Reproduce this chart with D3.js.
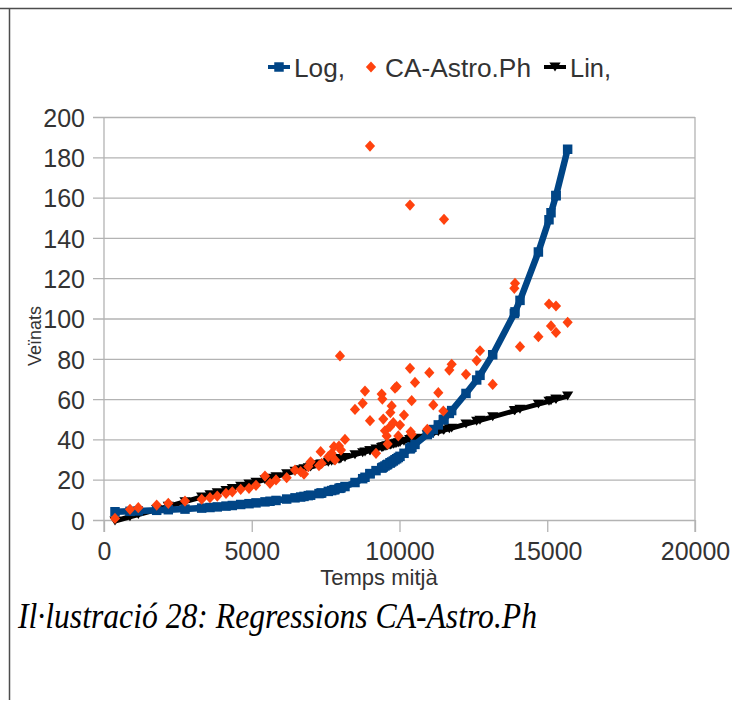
<!DOCTYPE html>
<html>
<head>
<meta charset="utf-8">
<script src="https://cdn.jsdelivr.net/npm/d3@7"></script>
<style>
  html, body { margin: 0; padding: 0; background: #ffffff; }
  svg { display: block; }
  text { font-family: "Liberation Sans", Arial, sans-serif; fill: #333333; }
  .caption { font-family: "Liberation Serif", "Times New Roman", serif; font-style: italic; fill: #000000; }
</style>
</head>
<body>
<svg id="chart" width="732" height="702"></svg>
<script>
// Mean time (x) shared by the observed points and both regression curves
const temps = [372, 880, 1161, 1783, 2176, 2741, 3306, 3587, 3834, 4129,
  4342, 4626, 4907, 5144, 5448, 5618, 5821, 6182, 6464, 6655,
  6768, 6914, 6993, 7276, 7332, 7366, 7591, 7704, 7783, 7817,
  7952, 7986, 8020, 8155, 8494, 8754, 8832, 9002, 9002, 9205,
  9397, 9419, 9452, 9509, 9566, 9600, 9679, 9690, 9735, 9791,
  9848, 9904, 9960, 10017, 10152, 10355, 10355, 10378, 10412, 10412,
  10524, 10941, 11009, 11144, 11313, 11483, 11506, 11686, 11766, 12250,
  12612, 12724, 13154, 13886, 13909, 14078, 14700, 15059, 15127, 15296,
  15296, 15690];

// Observed neighbours (CA-Astro.Ph)
const veinats = [0.8, 5.3, 6.1, 7.4, 8.3, 9.4, 10.3, 11.1, 11.9, 13.2,
  14.0, 15.2, 15.7, 17.2, 21.8, 18.2, 19.9, 21.0, 24.8, 24.0,
  22.8, 26.5, 28.9, 27.0, 33.9, 28.1, 31.4, 33.1, 36.4, 29.8,
  36.7, 81.4, 34.7, 40.0, 54.9, 57.9, 64.0, 185.6, 49.3, 33.1,
  62.5, 60.0, 50.1, 44.3, 41.7, 37.7, 46.3, 53.3, 56.6, 48.3,
  65.4, 66.2, 41.7, 47.1, 52.1, 75.3, 156.3, 43.8, 42.5, 59.2,
  68.3, 45.0, 73.1, 57.1, 63.2, 54.1, 149.2, 74.4, 77.3, 72.3,
  79.1, 84.0, 67.3, 115.0, 117.5, 86.0, 91.0, 107.2, 96.3, 106.2,
  93.1, 98.1];

// Log regression fitted values
const logFit = [4.1, 4.3, 4.5, 4.8, 5.1, 5.4, 5.9, 6.2, 6.5, 6.9,
  7.2, 7.7, 8.1, 8.5, 9.0, 9.3, 9.7, 10.4, 11.0, 11.4,
  11.7, 12.1, 12.3, 13.1, 13.3, 13.4, 14.2, 14.6, 15.0, 15.1,
  15.7, 15.8, 16.0, 16.6, 18.6, 20.5, 21.2, 23.0, 23.0, 24.5,
  25.8, 26.0, 26.3, 26.8, 27.3, 27.6, 28.3, 28.4, 28.8, 29.3,
  29.9, 30.4, 31.0, 31.6, 33.1, 35.4, 35.4, 35.7, 36.1, 36.1,
  37.5, 42.4, 43.2, 44.9, 47.2, 49.7, 50.0, 52.9, 54.3, 62.8,
  69.5, 71.8, 82.0, 102.5, 103.3, 109.0, 133.0, 149.0, 152.5, 161.0,
  161.0, 184.0];

// Linear regression fitted values
const linFit = [-0.5, 1.6, 2.7, 5.2, 6.8, 9.1, 11.4, 12.5, 13.5, 14.7,
  15.6, 16.7, 17.9, 18.8, 20.0, 20.7, 21.5, 23.0, 24.2, 24.9,
  25.4, 26.0, 26.3, 27.4, 27.7, 27.8, 28.7, 29.2, 29.5, 29.6,
  30.2, 30.3, 30.5, 31.0, 32.4, 33.4, 33.7, 34.4, 34.4, 35.2,
  36.0, 36.1, 36.2, 36.5, 36.7, 36.8, 37.2, 37.2, 37.4, 37.6,
  37.8, 38.1, 38.3, 38.5, 39.1, 39.9, 39.9, 40.0, 40.1, 40.1,
  40.6, 42.3, 42.5, 43.1, 43.8, 44.5, 44.6, 45.3, 45.6, 47.6,
  49.0, 49.5, 51.2, 54.2, 54.3, 55.0, 57.5, 58.9, 59.2, 59.9,
  59.9, 61.5];

const xTicks = [0, 5000, 10000, 15000, 20000];
const yTicks = [0, 20, 40, 60, 80, 100, 120, 140, 160, 180, 200];
const seriesNames = ["Log,", "CA-Astro.Ph", "Lin,"];
const seriesColors = ["#004586", "#ff420e", "#000000"];

const svg = d3.select("#chart");

// Page frame lines
svg.append("line").attr("x1", 0).attr("x2", 732).attr("y1", 8.5).attr("y2", 8.5)
  .attr("stroke", "#4d4d4d").attr("stroke-width", 1.5);
svg.append("line").attr("x1", 9.5).attr("x2", 9.5).attr("y1", 8).attr("y2", 700)
  .attr("stroke", "#4d4d4d").attr("stroke-width", 1.5);

const x = d3.scaleLinear().domain([0, 20000]).range([104, 695]);
const y = d3.scaleLinear().domain([0, 200]).range([520, 117]);
const gridColor = "#b3b3b3";

// Horizontal grid lines with value labels
const yAxis = svg.append("g")
  .attr("transform", "translate(93,0)")
  .call(d3.axisLeft(y).tickValues(yTicks).tickFormat(d3.format("d"))
    .tickSize(-(695 - 93)).tickPadding(8));
yAxis.select(".domain").remove();
yAxis.selectAll(".tick line").attr("stroke", gridColor).attr("stroke-width", 1.3);
yAxis.selectAll(".tick text").attr("font-size", 25).style("fill", "#333333")
  .attr("dy", "0.37em");

// X axis ticks and labels
const xAxis = svg.append("g")
  .attr("transform", "translate(0,520)")
  .call(d3.axisBottom(x).tickValues(xTicks).tickFormat(d3.format("d"))
    .tickSize(12).tickPadding(10));
xAxis.select(".domain").remove();
xAxis.selectAll(".tick line").attr("stroke", gridColor).attr("stroke-width", 1.3);
xAxis.selectAll(".tick text").attr("font-size", 25).style("fill", "#333333");

// Plot area side borders
svg.append("line").attr("x1", x(0)).attr("x2", x(0)).attr("y1", y(200)).attr("y2", 532)
  .attr("stroke", gridColor).attr("stroke-width", 1.3);
svg.append("line").attr("x1", x(20000)).attr("x2", x(20000)).attr("y1", y(200)).attr("y2", 532)
  .attr("stroke", gridColor).attr("stroke-width", 1.3);

// Axis titles
svg.append("text").attr("x", 379).attr("y", 585).attr("text-anchor", "middle")
  .attr("font-size", 22).text("Temps mitjà");
svg.append("text").attr("transform", "translate(41,336) rotate(-90)")
  .attr("text-anchor", "middle").attr("font-size", 18).text("Veïnats");

// Marker shapes
const diamond = {
  draw(ctx, size) {
    const r = Math.sqrt(size / 2);
    ctx.moveTo(0, -r * 1.1); ctx.lineTo(r, 0); ctx.lineTo(0, r * 1.1); ctx.lineTo(-r, 0); ctx.closePath();
  }
};
const downTriangle = {
  draw(ctx, size) {
    const w = Math.sqrt(size) * 1.15;
    const h = w * 0.8;
    ctx.moveTo(-w / 2, -h / 2); ctx.lineTo(w / 2, -h / 2); ctx.lineTo(0, h / 2); ctx.closePath();
  }
};
const squareSym = d3.symbol().type(d3.symbolSquare).size(90);
const diamondSym = d3.symbol().type(diamond).size(52);
const triSym = d3.symbol().type(downTriangle).size(95);

const idx = d3.range(temps.length);

// Linear regression
const linLine = d3.line().x(i => x(temps[i])).y(i => y(linFit[i]));
svg.append("path").datum(idx).attr("d", linLine)
  .attr("fill", "none").attr("stroke", seriesColors[2]).attr("stroke-width", 5)
  .attr("stroke-linejoin", "round");
svg.append("g").selectAll("path").data(idx).join("path")
  .attr("transform", i => `translate(${x(temps[i])},${y(linFit[i])})`)
  .attr("d", triSym).attr("fill", seriesColors[2]);

// Log regression
const logLine = d3.line().x(i => x(temps[i])).y(i => y(logFit[i]));
svg.append("path").datum(idx).attr("d", logLine)
  .attr("fill", "none").attr("stroke", seriesColors[0]).attr("stroke-width", 6.5)
  .attr("stroke-linejoin", "round");
svg.append("g").selectAll("path").data(idx).join("path")
  .attr("transform", i => `translate(${x(temps[i])},${y(logFit[i])})`)
  .attr("d", squareSym).attr("fill", seriesColors[0]);

// Observed points
svg.append("g").selectAll("path").data(idx).join("path")
  .attr("transform", i => `translate(${x(temps[i])},${y(veinats[i])})`)
  .attr("d", diamondSym).attr("fill", seriesColors[1]);

// Legend
const legend = svg.append("g").attr("transform", "translate(0,67)");
const legendItems = [
  { name: seriesNames[0], color: seriesColors[0], mx: 279, tx: 294, w: 51, line: true, sym: squareSym },
  { name: seriesNames[1], color: seriesColors[1], mx: 371, tx: 385, w: 146, line: false, sym: diamondSym },
  { name: seriesNames[2], color: seriesColors[2], mx: 555, tx: 570, w: 41, line: true, sym: triSym }
];
legendItems.forEach(d => {
  if (d.line) {
    legend.append("line").attr("x1", d.mx - 11).attr("x2", d.mx + 11).attr("y1", 0).attr("y2", 0)
      .attr("stroke", d.color).attr("stroke-width", 4);
  }
  legend.append("path").attr("transform", `translate(${d.mx},0)`).attr("d", d.sym).attr("fill", d.color);
  legend.append("text").attr("x", d.tx).attr("y", 0).attr("dy", "0.37em")
    .attr("font-size", 26).attr("textLength", d.w).attr("lengthAdjust", "spacingAndGlyphs")
    .text(d.name);
});

// Figure caption
svg.append("text").attr("class", "caption").attr("x", 18).attr("y", 628)
  .attr("font-size", 35).attr("textLength", 519).attr("lengthAdjust", "spacingAndGlyphs")
  .text("Il·lustració 28: Regressions CA-Astro.Ph");
</script>
</body>
</html>
